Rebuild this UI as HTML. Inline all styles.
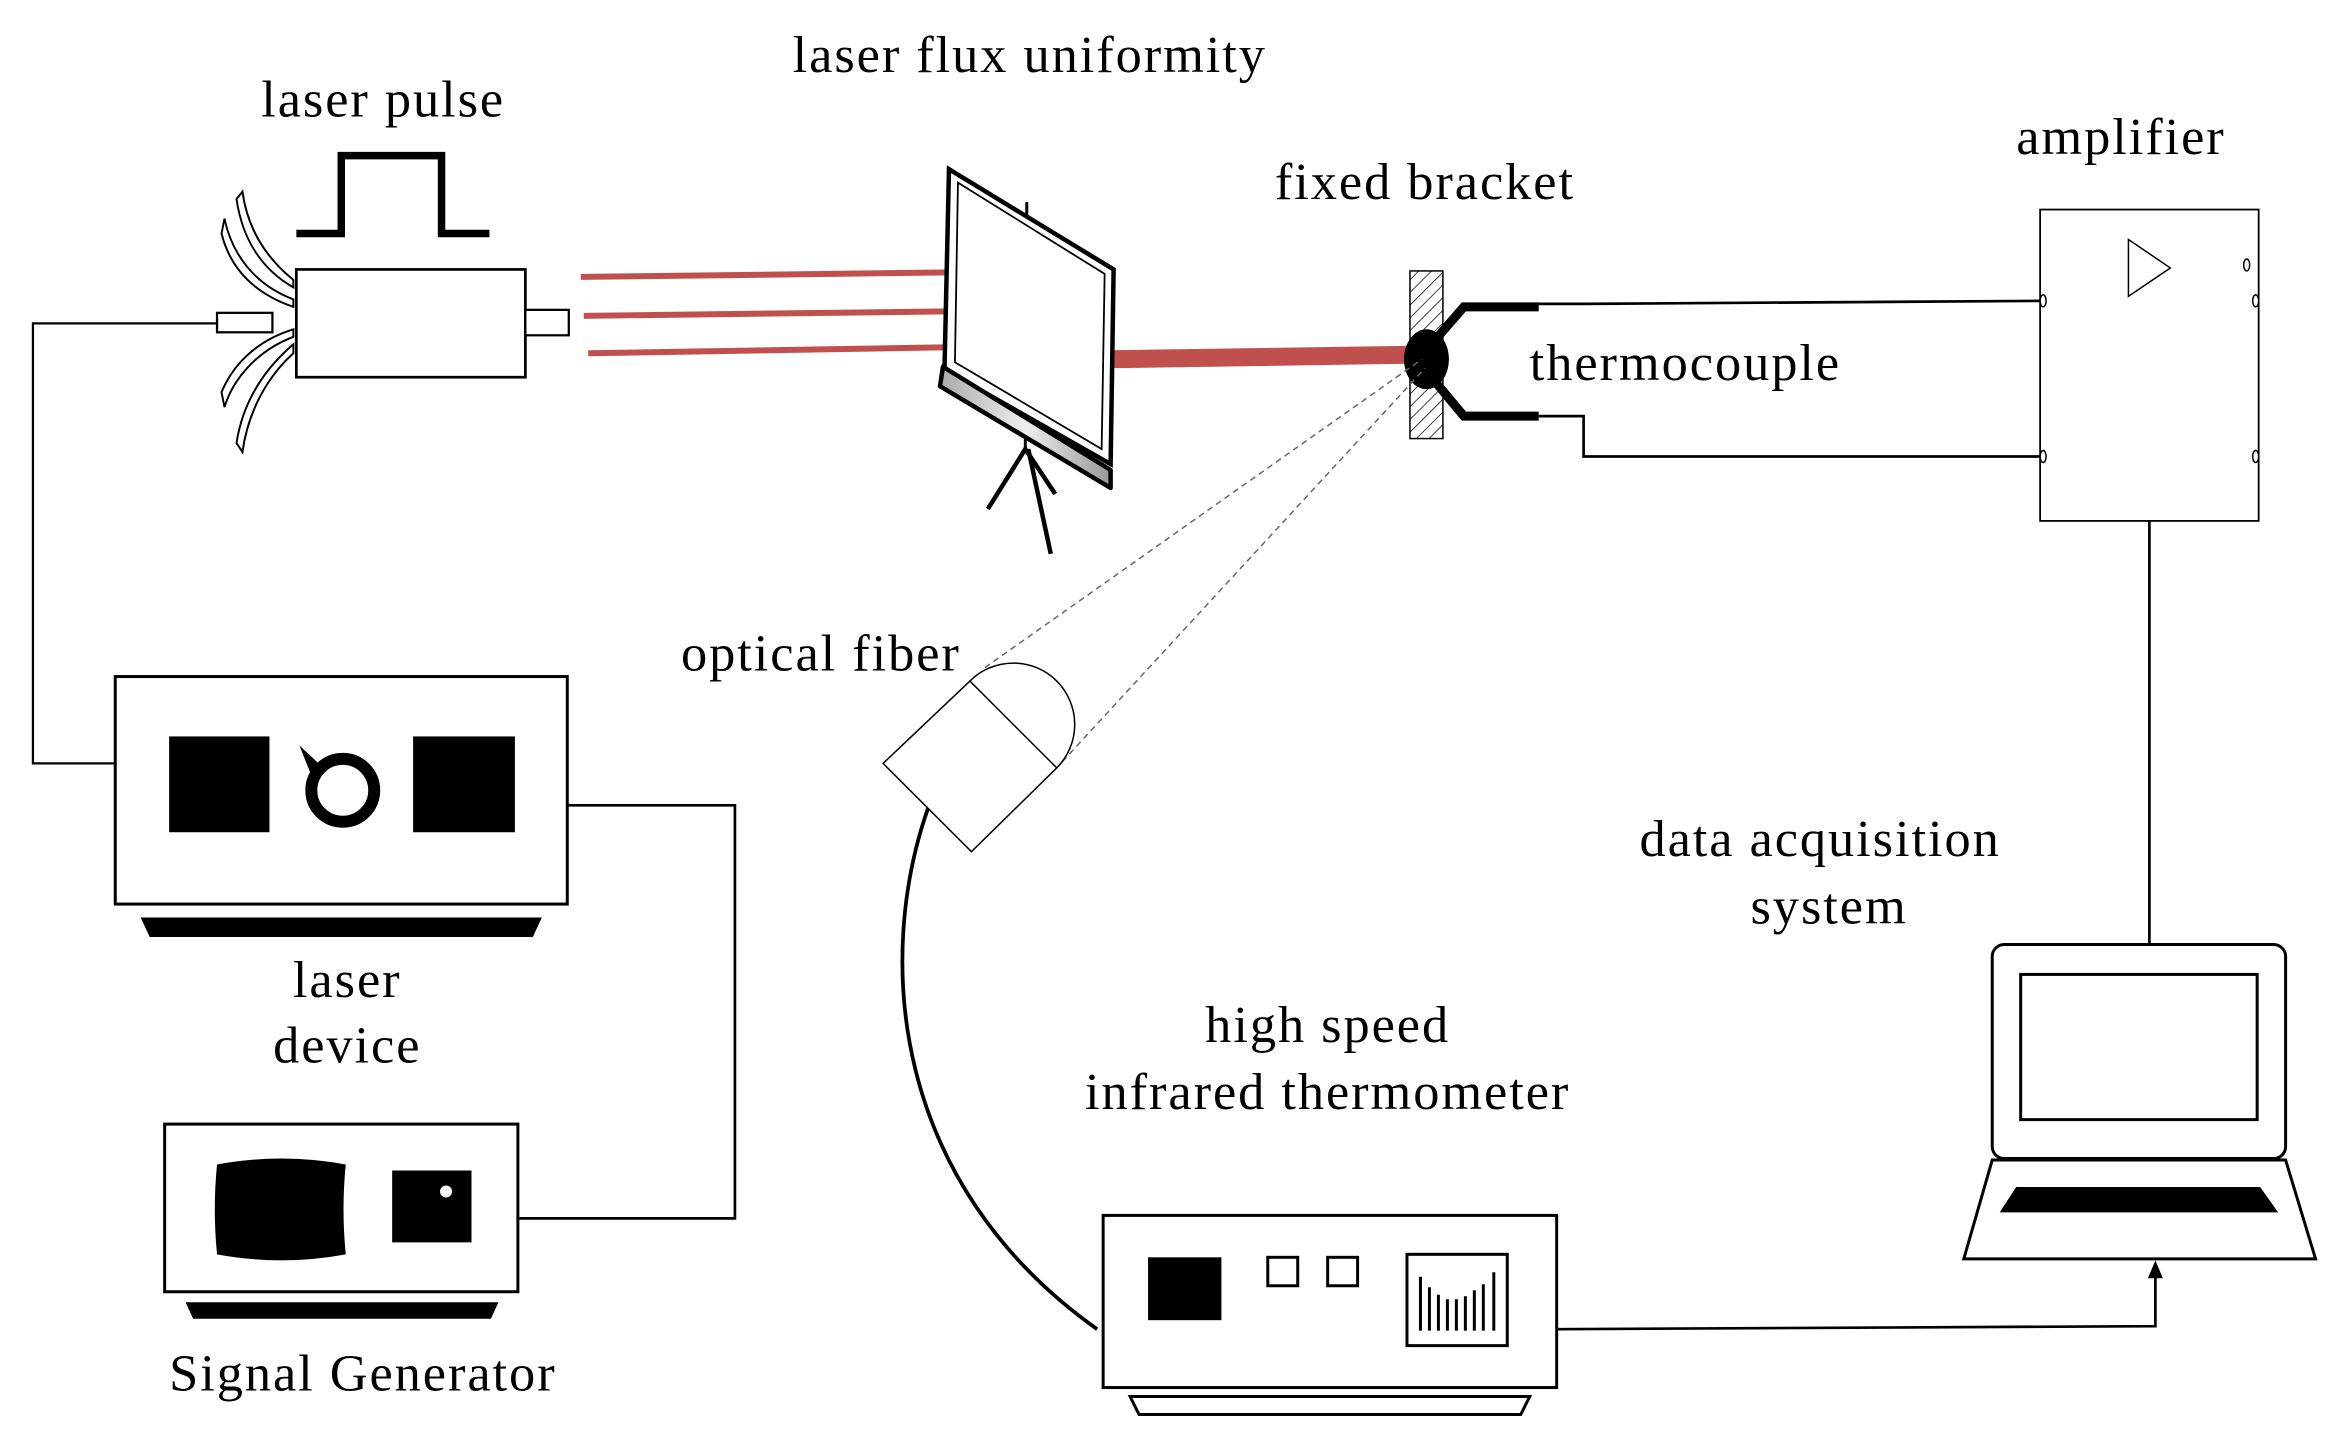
<!DOCTYPE html>
<html><head><meta charset="utf-8"><style>
html,body{margin:0;padding:0;background:#fff}
svg{display:block}
text{font-family:"Liberation Serif",serif;font-size:35px;letter-spacing:1.3px;fill:#000}
</style></head><body>
<svg width="2335" height="1435" viewBox="0 0 1560 958.7" xmlns="http://www.w3.org/2000/svg">
<defs>
<pattern id="h" width="6" height="6" patternUnits="userSpaceOnUse" patternTransform="rotate(45)">
<line x1="0" y1="0" x2="0" y2="6" stroke="#000" stroke-width="1"/></pattern>
<linearGradient id="g" x1="0" y1="0" x2="1" y2="0"><stop offset="0" stop-color="#aaa"/><stop offset="0.5" stop-color="#eee"/><stop offset="1" stop-color="#999"/></linearGradient>
</defs>
<!-- texts -->
<text x="256" y="78" text-anchor="middle">laser pulse</text>
<text x="688" y="48" text-anchor="middle">laser flux uniformity</text>
<text x="952" y="133" text-anchor="middle">fixed bracket</text>
<text x="1417" y="103" text-anchor="middle">amplifier</text>
<text x="1022" y="254">thermocouple</text>
<text x="455" y="448">optical fiber</text>
<text x="1216" y="572" text-anchor="middle">data acquisition</text>
<text x="1222" y="617" text-anchor="middle">system</text>
<text x="887" y="696" text-anchor="middle">high speed</text>
<text x="887" y="741" text-anchor="middle">infrared thermometer</text>
<text x="232" y="666" text-anchor="middle">laser</text>
<text x="232" y="710" text-anchor="middle">device</text>
<text x="113" y="929">Signal Generator</text>

<!-- pulse -->
<polyline points="198,156 228,156 228,104 295,104 295,156 327,156" fill="none" stroke="#000" stroke-width="5"/>
<!-- fibers -->
<g fill="#fff" stroke="#000" stroke-width="1.3">
<path d="M196,187 C175,170 165,150 162,128 L158,133 C162,160 175,180 196,192 Z"/>
<path d="M196,200 C170,190 155,170 150,146 L148,156 C154,180 170,196 196,205 Z"/>
<path d="M196,225 C170,235 155,255 150,272 L148,262 C155,245 170,228 196,220 Z"/>
<path d="M196,236 C175,255 165,280 162,302 L158,296 C162,270 175,248 196,230 Z"/>
</g>
<polyline points="145,216 22,216 22,510 77,510" fill="none" stroke="#000" stroke-width="1.5"/>
<rect x="145" y="209" width="37" height="13" fill="#fff" stroke="#000" stroke-width="1.5"/>
<rect x="198" y="180" width="153" height="72" fill="#fff" stroke="#000" stroke-width="1.8"/>
<rect x="351" y="207" width="29" height="17" fill="#fff" stroke="#000" stroke-width="1.5"/>
<!-- beams -->
<g stroke="#c0504d" stroke-width="4">
<line x1="388" y1="185" x2="634" y2="182"/>
<line x1="390" y1="211" x2="634" y2="208"/>
<line x1="393" y1="236" x2="634" y2="232"/>
</g>
<line x1="742" y1="240" x2="942" y2="237" stroke="#c0504d" stroke-width="12"/>
<!-- screen -->
<line x1="687" y1="300" x2="702" y2="370" stroke="#000" stroke-width="3"/>
<path d="M660,340 L685,300 L705,330" fill="none" stroke="#000" stroke-width="3"/>
<line x1="685" y1="300" x2="686" y2="135" stroke="#000" stroke-width="2"/>
<polygon points="634,113 744,180 742,310 631,247" fill="#fff" stroke="#000" stroke-width="3"/>
<polygon points="640,122 738,183 736,300 638,242" fill="none" stroke="#000" stroke-width="1.2"/>
<path d="M630,245 L742,314 L742,326 L628,258 Z" fill="url(#g)" stroke="#000" stroke-width="3" stroke-linejoin="round"/>
<!-- bracket -->
<rect x="942" y="181" width="22" height="112" fill="url(#h)" stroke="#000" stroke-width="1"/>
<ellipse cx="953" cy="240" rx="15" ry="20" fill="#000"/>
<polyline points="958,228 978,205 1028,205" fill="none" stroke="#000" stroke-width="6"/>
<polyline points="958,254 978,278 1028,278" fill="none" stroke="#000" stroke-width="6"/>
<polyline points="1028,203 1058,203 1365,201" fill="none" stroke="#000" stroke-width="1.8"/>
<polyline points="1028,278 1058,278 1058,305 1365,305" fill="none" stroke="#000" stroke-width="1.8"/>
<!-- amplifier -->
<rect x="1363" y="140" width="146" height="208" fill="#fff" stroke="#000" stroke-width="1.2"/>
<polygon points="1422,160 1450,179 1422,198" fill="none" stroke="#000" stroke-width="1"/>
<g fill="#fff" stroke="#000" stroke-width="1">
<ellipse cx="1365" cy="201" rx="2" ry="4"/><ellipse cx="1365" cy="305" rx="2" ry="4"/>
<ellipse cx="1507" cy="201" rx="2" ry="4"/><ellipse cx="1507" cy="305" rx="2" ry="4"/>
<ellipse cx="1501" cy="177" rx="2" ry="4"/></g>
<line x1="1436" y1="348" x2="1436" y2="631" stroke="#000" stroke-width="1.8"/>
<!-- laptop -->
<rect x="1331" y="631" width="196" height="143" rx="8" fill="#fff" stroke="#000" stroke-width="2"/>
<rect x="1350" y="651" width="158" height="97" fill="#fff" stroke="#000" stroke-width="2"/>
<polygon points="1331,775 1527,775 1547,841 1312,841" fill="#fff" stroke="#000" stroke-width="2"/>
<polygon points="1347,793 1510,793 1522,810 1336,810" fill="#000"/>
<polyline points="1040,888 1440,886 1440,845" fill="none" stroke="#000" stroke-width="1.8"/>
<polygon points="1440,842 1435,854 1445,854" fill="#000"/>
<!-- fiber head -->
<path d="M620,540 C585,640 595,790 733,888" fill="none" stroke="#000" stroke-width="2.5"/>
<line x1="658" y1="446" x2="950" y2="240" stroke="#666" stroke-width="1" stroke-dasharray="4,3"/>
<line x1="705" y1="514" x2="952" y2="246" stroke="#666" stroke-width="1" stroke-dasharray="4,3"/>
<path d="M648,455 A40,40 0 0 1 706,513" fill="#fff" stroke="#000" stroke-width="1"/>
<polygon points="590,510 648,455 706,513 649,569" fill="#fff" stroke="#000" stroke-width="1"/>
<!-- thermometer -->
<rect x="737" y="812" width="303" height="115" fill="#fff" stroke="#000" stroke-width="2"/>
<polygon points="755,933 1022,933 1016,945 761,945" fill="#fff" stroke="#000" stroke-width="2"/>
<rect x="767" y="840" width="49" height="42" fill="#000"/>
<rect x="847" y="840" width="20" height="19" fill="#fff" stroke="#000" stroke-width="2"/>
<rect x="887" y="840" width="20" height="19" fill="#fff" stroke="#000" stroke-width="2"/>
<rect x="940" y="838" width="67" height="61" fill="#fff" stroke="#000" stroke-width="2"/>
<g stroke="#000" stroke-width="2">
<line x1="949" y1="853" x2="949" y2="889"/><line x1="955" y1="860" x2="955" y2="889"/><line x1="961" y1="865" x2="961" y2="889"/>
<line x1="967" y1="868" x2="967" y2="889"/><line x1="973" y1="868" x2="973" y2="889"/><line x1="979" y1="866" x2="979" y2="889"/>
<line x1="985" y1="862" x2="985" y2="889"/><line x1="991" y1="858" x2="991" y2="889"/><line x1="998" y1="850" x2="998" y2="889"/></g>
<!-- laser device -->
<rect x="77" y="452" width="302" height="152" fill="#fff" stroke="#000" stroke-width="2"/>
<polygon points="94,613 362,613 356,626 100,626" fill="#000"/>
<rect x="113" y="492" width="67" height="64" fill="#000"/>
<rect x="276" y="492" width="68" height="64" fill="#000"/>
<circle cx="229" cy="528" r="21" fill="none" stroke="#000" stroke-width="8"/>
<polygon points="200,498 215,512 208,518" fill="#000"/>
<polyline points="379,538 491,538 491,814 346,814" fill="none" stroke="#000" stroke-width="1.8"/>
<!-- signal generator -->
<rect x="110" y="751" width="236" height="112" fill="#fff" stroke="#000" stroke-width="2"/>
<polygon points="124,870 333,870 328,881 129,881" fill="#000"/>
<path d="M145,778 Q188,770 231,778 Q228,808 231,838 Q188,846 145,838 Q142,808 145,778 Z" fill="#000"/>
<rect x="262" y="782" width="53" height="48" fill="#000"/>
<circle cx="298" cy="796" r="4" fill="#fff"/>
</svg>
</body></html>
